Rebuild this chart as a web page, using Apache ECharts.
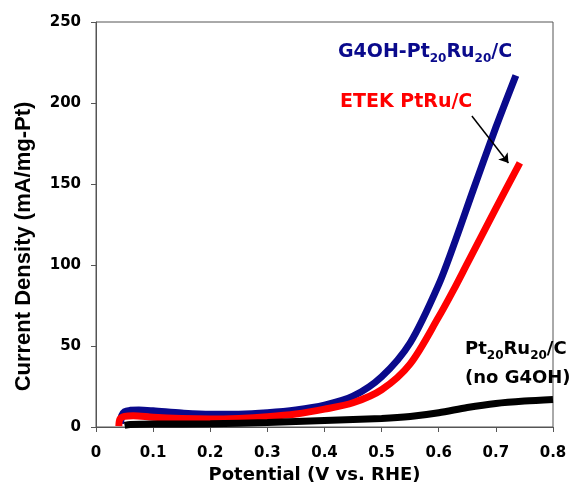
<!DOCTYPE html>
<html>
<head>
<meta charset="utf-8">
<script src="https://cdn.jsdelivr.net/npm/echarts@6/dist/echarts.min.js"></script>
<style>
  html, body { margin: 0; padding: 0; background: #fff; }
  #container { width: 574px; height: 483px; }
</style>
</head>
<body>
<div id="container"></div>
<script>
var dom = document.getElementById("container");
var myChart = echarts.init(dom);

var xTicks = [0, 0.1, 0.2, 0.3, 0.4, 0.5, 0.6, 0.7, 0.8];
var yTicks = [0, 50, 100, 150, 200, 250];

// G4OH-Pt20Ru20/C
var blueX = [0.043, 0.045, 0.05, 0.06, 0.075, 0.1, 0.15, 0.2, 0.25, 0.3, 0.35, 0.4, 0.45, 0.5, 0.55, 0.6, 0.63, 0.66, 0.7, 0.735];
var blueY = [2, 7, 9.5, 10.3, 10.5, 10, 8.6, 7.8, 7.9, 8.8, 10.5, 13.5, 19, 31, 52, 88, 116, 146, 185, 217];
// ETEK PtRu/C
var redX = [0.04, 0.042, 0.05, 0.065, 0.1, 0.15, 0.2, 0.25, 0.3, 0.35, 0.4, 0.45, 0.5, 0.55, 0.6, 0.625, 0.65, 0.675, 0.7, 0.742];
var redY = [0.5, 5, 6.5, 7, 6, 5.2, 4.9, 5.3, 6.3, 8, 11, 15, 23, 39, 68, 84, 101, 118, 135, 163];
// Pt20Ru20/C (no G4OH)
var blackX = [0.05, 0.06, 0.1, 0.2, 0.3, 0.4, 0.5, 0.55, 0.6, 0.65, 0.7, 0.75, 0.8];
var blackY = [1, 1.5, 1.8, 2, 2.8, 4, 5.3, 6.5, 8.8, 12, 14.5, 16, 17];

function pairs(xs, ys) {
    return xs.map(function (x, i) { return [x, ys[i]]; });
}

// the source picture is stretched sideways, DejaVu's wider glyphs match it better
var wide = "'DejaVu Sans', 'Liberation Sans', sans-serif";
var narrow = "'Liberation Sans', Arial, sans-serif";

function label(left, top, text, color, size) {
    return {
        type: 'text',
        left: left,
        top: top,
        style: {
            text: text,
            rich: {
                m: { fontSize: size, fontWeight: 'bold', fontFamily: wide, color: color, lineHeight: 22, verticalAlign: 'top' },
                s: { fontSize: 12, fontWeight: 'bold', fontFamily: wide, color: color, lineHeight: 12, padding: [10, 0, 0, 0], verticalAlign: 'top' }
            },
            fill: color,
            font: 'bold ' + size + 'px ' + wide
        }
    };
}

option = {
    backgroundColor: '#ffffff',
    animation: false,
    textStyle: { fontFamily: wide },
    grid: {
        left: 96,
        right: 21,
        top: 22,
        bottom: 56,
        outerBoundsMode: 'none',
        containLabel: false,
        show: true,
        borderColor: '#555',
        borderWidth: 1
    },
    xAxis: {
        type: 'value',
        min: xTicks[0],
        max: xTicks[xTicks.length - 1],
        interval: 0.1,
        name: 'Potential (V vs. RHE)',
        nameLocation: 'middle',
        nameGap: 39,
        nameTextStyle: { fontSize: 18, fontWeight: 'bold', color: '#000', padding: [0, 20, 0, 0] },
        axisLine: { lineStyle: { color: '#555' } },
        axisTick: { length: 5, lineStyle: { color: '#555' } },
        axisLabel: {
            margin: 19,
            fontSize: 15,
            fontWeight: 'bold',
            color: '#000',
            formatter: function (v) { return v === 0 ? '0' : v.toFixed(1); }
        },
        splitLine: { show: false }
    },
    yAxis: {
        type: 'value',
        min: yTicks[0],
        max: yTicks[yTicks.length - 1],
        interval: 50,
        name: 'Current Density (mA/mg-Pt)',
        nameLocation: 'middle',
        nameGap: 61,
        nameTextStyle: { fontSize: 22, fontWeight: 'bold', color: '#000', fontFamily: narrow, padding: [0, 44, 0, 0] },
        axisLine: { show: true, lineStyle: { color: '#555' } },
        axisTick: { show: true, length: 5, lineStyle: { color: '#555' } },
        axisLabel: { margin: 15, fontSize: 15, fontWeight: 'bold', color: '#000' },
        splitLine: { show: false }
    },
    series: [
        {
            name: 'G4OH-Pt20Ru20/C',
            type: 'line',
            data: pairs(blueX, blueY),
            smooth: 0.3,
            showSymbol: false,
            lineStyle: { color: '#0a0a8c', width: 7 }
        },
        {
            name: 'ETEK PtRu/C',
            type: 'line',
            data: pairs(redX, redY),
            smooth: 0.3,
            showSymbol: false,
            lineStyle: { color: '#ff0000', width: 7 },
            markLine: {
                silent: true,
                symbol: ['none', 'arrow'],
                symbolSize: 9,
                label: { show: false },
                lineStyle: { color: '#000', width: 1.5, type: 'solid' },
                data: [[{ coord: [0.658, 192] }, { coord: [0.722, 163] }]]
            }
        },
        {
            name: 'Pt20Ru20/C (no G4OH)',
            type: 'line',
            data: pairs(blackX, blackY),
            smooth: 0.3,
            showSymbol: false,
            lineStyle: { color: '#000000', width: 7 }
        }
    ],
    graphic: [
        label(338, 43, '{m|G4OH-Pt}{s|20}{m|Ru}{s|20}{m|/C}', '#0a0a8c', 19),
        label(340, 93, '{m|ETEK PtRu/C}', '#ff0000', 19),
        label(465, 340, '{m|Pt}{s|20}{m|Ru}{s|20}{m|/C}', '#000000', 18),
        label(465, 369, '{m|(no G4OH)}', '#000000', 18)
    ]
};

if (option && typeof option === "object") {
    myChart.setOption(option, true);
}
</script>
</body>
</html>
